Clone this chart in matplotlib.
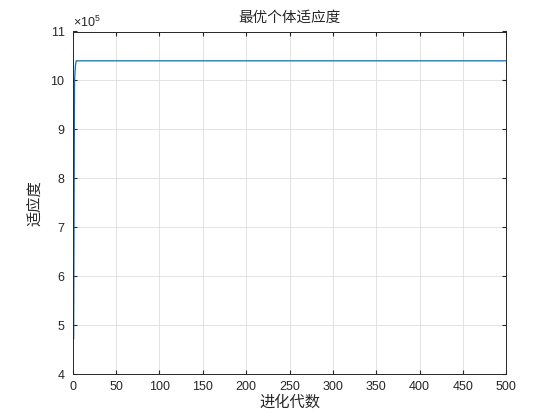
import matplotlib
matplotlib.use('Agg')
import matplotlib.pyplot as plt
from matplotlib.ticker import ScalarFormatter

plt.rcParams['font.family'] = ['Liberation Sans', 'Noto Sans CJK SC', 'DejaVu Sans']
plt.rcParams['mathtext.fontset'] = 'custom'
plt.rcParams['mathtext.rm'] = 'Liberation Sans'

# ---------- DATA ----------
generations = list(range(1, 501))
early_fitness = [4.72e5, 10.0e5, 10.30e5, 10.40e5]
plateau_fitness = 10.40e5
fitness = early_fitness + [plateau_fitness] * (len(generations) - len(early_fitness))

x_ticks = [0, 50, 100, 150, 200, 250, 300, 350, 400, 450, 500]
y_ticks = [4e5, 5e5, 6e5, 7e5, 8e5, 9e5, 10e5, 11e5]

# ---------- FIGURE ----------
fig = plt.figure(figsize=(5.6, 4.2), dpi=100)
ax = fig.add_axes([0.13, 0.11, 0.774, 0.815])

ax.plot(generations, fitness, color='#0072BD', linewidth=0.9)

ax.set_xlim(0, 500)
ax.set_ylim(4e5, 11e5)
ax.set_xticks(x_ticks)
ax.set_yticks(y_ticks)

fmt = ScalarFormatter(useMathText=True)
fmt.set_powerlimits((5, 5))
ax.yaxis.set_major_formatter(fmt)
ax.yaxis.get_offset_text().set_fontsize(9)
ax.yaxis.get_offset_text().set_color('#262626')

ax.grid(True, color='#dedede', linewidth=0.6)
ax.set_axisbelow(True)
ax.tick_params(direction='in', length=3, labelsize=9, colors='#262626',
               top=True, right=True, pad=5)
for s in ax.spines.values():
    s.set_color('#262626')
    s.set_linewidth(0.7)

ax.set_title('最优个体适应度', fontsize=10.5, color='#262626', pad=7)
ax.set_xlabel('进化代数', fontsize=11, color='#262626', labelpad=2)
ax.set_ylabel('适应度', fontsize=11, color='#262626', labelpad=6)

# ---------- OUTPUT ----------
fig.savefig('out.png', dpi=100)
plt.close(fig)
